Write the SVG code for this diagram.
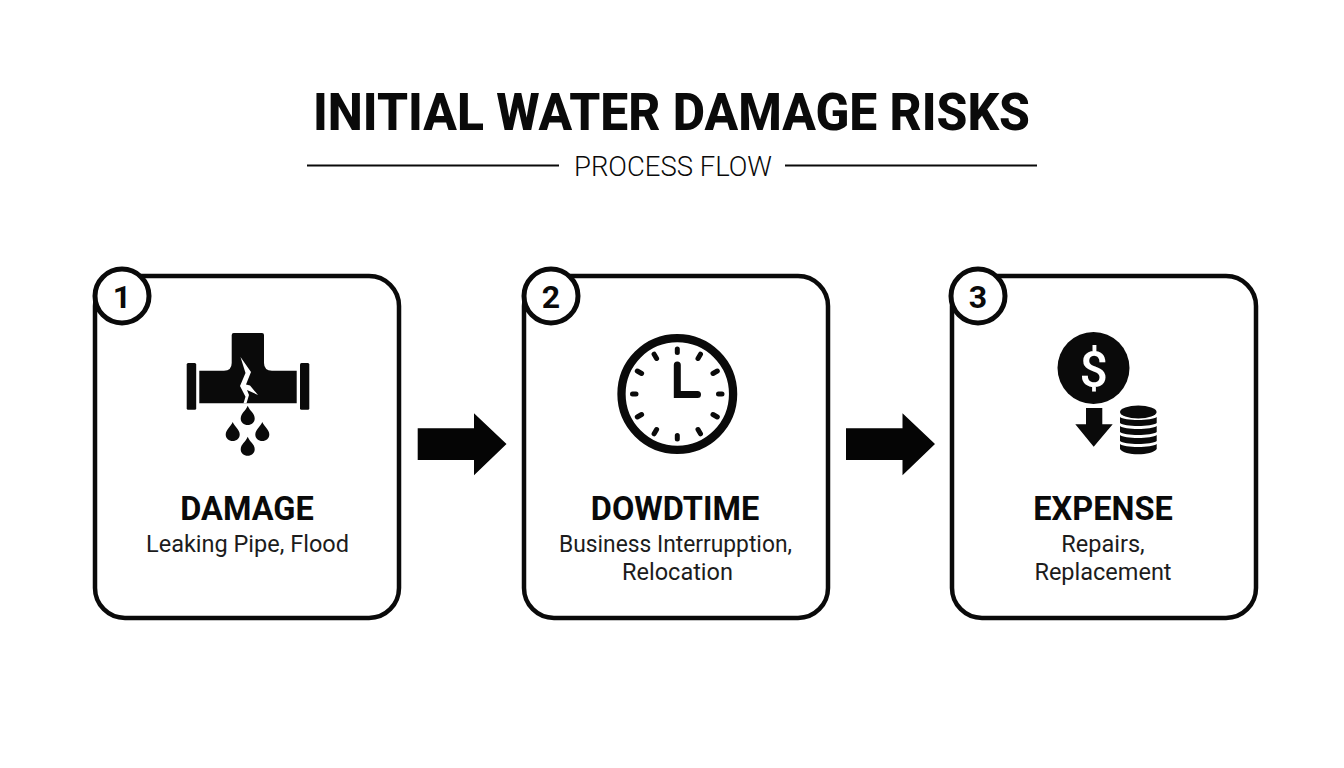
<svg xmlns="http://www.w3.org/2000/svg" width="1344" height="768" viewBox="0 0 1344 768">
<style>
text{font-family:Roboto,"Liberation Sans",sans-serif;text-anchor:middle;fill:#0a0a0a}
.card{fill:#fff;stroke:#0a0a0a;stroke-width:4.5}
.badge{fill:#fff;stroke:#0a0a0a;stroke-width:5}
.num{font-size:32px;font-weight:700}
.head{font-size:32.500px;font-weight:700}
.sub{font-size:23.500px;font-weight:400;fill:#1c1c1c}
.ink{fill:#0a0a0a}
.arrow{fill:#050505}
.rule{stroke:#0a0a0a;stroke-width:2;fill:none}
.tick{stroke:#0a0a0a;stroke-width:5;stroke-linecap:round;fill:none}
</style>
<rect width="1344" height="768" fill="#fff"/>
<g id="title">
<text x="671.500" y="130" font-size="52" font-weight="800" textLength="717" lengthAdjust="spacingAndGlyphs">INITIAL WATER DAMAGE RISKS</text>
<line class="rule" x1="307" y1="165.500" x2="559" y2="165.500"/>
<text x="673" y="175.500" font-size="28" font-weight="300" textLength="198" lengthAdjust="spacingAndGlyphs">PROCESS FLOW</text>
<line class="rule" x1="785" y1="165.500" x2="1037" y2="165.500"/>
</g>
<g id="connectors">
<path class="arrow" d="M417.700 428.300H474V413.300L506.500 444L474 475.300V460H417.700Z"/>
<path class="arrow" d="M846 428.300H902.500V413.300L935 444L902.500 475.300V460H846Z"/>
</g>
<g id="node-1">
<rect class="card" x="95" y="276" width="304" height="342" rx="30"/>
<circle class="badge" cx="122" cy="296" r="27"/>
<text class="num" x="122" y="307.500">1</text>
<g class="ink">
<rect x="186.700" y="363" width="9.500" height="46.700" rx="1.500"/>
<rect x="300" y="363" width="9.300" height="46.700" rx="1.500"/>
<path d="M199.300 370.700H224Q231.700 370.700 231.700 363V335Q231.700 333 233.700 333H262Q264 333 264 335V363Q264 370.700 272 370.700H296.700V403.300H199.300Z"/>
<path d="M247.700 405.700C249.700 411 254.700 413 254.700 418.500C254.700 422.500 251.500 425 247.700 425C243.900 425 240.700 422.500 240.700 418.500C240.700 413 245.700 411 247.700 405.700Z"/>
<path d="M232.700 422C234.700 427 239.700 429.500 239.700 434.500C239.700 438.500 236.500 441 232.700 441C228.900 441 225.700 438.500 225.700 434.500C225.700 429.500 230.700 427 232.700 422Z"/>
<path d="M262.300 422C264.300 427 269.300 429.500 269.300 434.500C269.300 438.500 266.100 441 262.300 441C258.500 441 255.300 438.500 255.300 434.500C255.300 429.500 260.300 427 262.300 422Z"/>
<path d="M247.700 436.700C249.700 442 254.700 444 254.700 449.200C254.700 453.200 251.500 455.700 247.700 455.700C243.900 455.700 240.700 453.200 240.700 449.200C240.700 444 245.700 442 247.700 436.700Z"/>
</g>
<path d="M240.500 357L245.500 373L240 386L245.500 396.700L243.500 403.300H246.500L249 395L247 390L258 395L250 385.500L246 384.500L251 372Z" fill="#fff"/>
<text class="head" x="247" y="520">DAMAGE</text>
<text class="sub" x="247.500" y="551.500">Leaking Pipe, Flood</text>
</g>
<g id="node-2">
<rect class="card" x="524" y="276" width="304" height="342" rx="30"/>
<circle class="badge" cx="551" cy="296" r="27"/>
<text class="num" x="551" y="307.500">2</text>
<circle cx="677.300" cy="394" r="55.800" fill="#fff" stroke="#0a0a0a" stroke-width="8.300"/>
<g class="tick">
<path d="M677.300 349V352.500M677.300 435.500V439M632.500 394H636M718.500 394H722"/>
<path d="M698 358.500L700.500 354.200M713 373.500L717.300 371M713 414.500L717.300 417M698 429.500L700.500 433.800M656.600 429.500L654.100 433.800M641.600 414.500L637.300 417M641.600 373.500L637.300 371M656.600 358.500L654.100 354.200"/>
</g>
<path d="M677.300 365V394.500H697.500" fill="none" stroke="#0a0a0a" stroke-width="7" stroke-linecap="round"/>
<text class="head" x="675" y="520">DOWDTIME</text>
<text class="sub" x="675.500" y="551.500" textLength="233" lengthAdjust="spacingAndGlyphs">Business Interrupption,</text>
<text class="sub" x="677.500" y="580">Relocation</text>
</g>
<g id="node-3">
<rect class="card" x="952" y="276" width="304" height="342" rx="30"/>
<circle class="badge" cx="978" cy="296" r="27"/>
<text class="num" x="978" y="307.500">3</text>
<circle class="ink" cx="1093.500" cy="368" r="36"/>
<text x="1093.800" y="387" font-size="50" font-weight="500" style="fill:#fff">$</text>
<path class="ink" d="M1086 408H1102.300V424.300H1112.700L1093.700 446.700L1075.300 424.300H1086Z"/>
<g class="ink">
<ellipse cx="1138.300" cy="412" rx="18.300" ry="6.500"/>
<path d="M1120 417C1124 421 1152 421 1156.700 417V423C1152 427 1124 427 1120 423Z"/>
<path d="M1120 426C1124 430 1152 430 1156.700 426V432C1152 436 1124 436 1120 432Z"/>
<path d="M1120 435C1124 439 1152 439 1156.700 435V441C1152 445 1124 445 1120 441Z"/>
<path d="M1120 444C1124 448 1152 448 1156.700 444V449C1152 456 1124 456 1120 449Z"/>
</g>
<text class="head" x="1103" y="520">EXPENSE</text>
<text class="sub" x="1103" y="551.500">Repairs,</text>
<text class="sub" x="1103" y="580">Replacement</text>
</g>
</svg>
